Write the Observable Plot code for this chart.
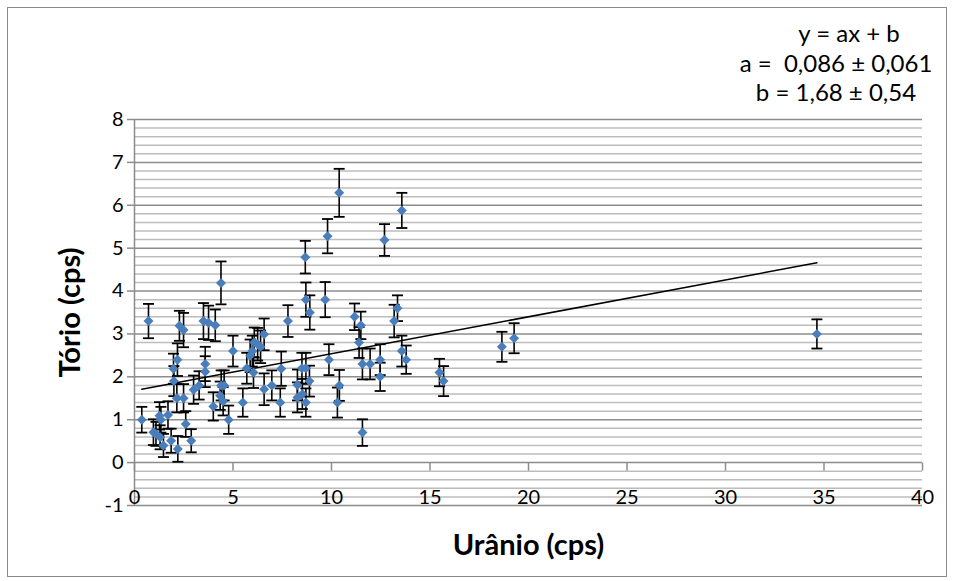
<!DOCTYPE html>
<html><head><meta charset="utf-8">
<script src="https://cdn.jsdelivr.net/npm/d3@7"></script>
<script src="https://cdn.jsdelivr.net/npm/@observablehq/plot@0.6"></script>
<style>
body{margin:0;background:#fff;}
#wrap{position:relative;width:954px;height:581px;font-family:Lato, sans-serif;overflow:hidden;}
#border{position:absolute;left:7px;top:7px;width:938px;height:568px;border:1px solid #8a8a8a;pointer-events:none;}
#eq{position:absolute;left:716px;top:18px;width:240px;text-align:center;font-size:24px;line-height:29.5px;color:#000;white-space:pre;}
#eq div:first-child{padding-left:26px;}
</style></head><body>
<div id="wrap"><div id="chart"></div><div id="border"></div><div id="eq"></div></div>
<script>
const uranio = [0.37,0.71,0.96,1.09,1.27,1.34,1.30,1.47,1.70,1.86,2.20,2.60,2.88,2.15,2.49,2.00,1.98,2.18,2.28,2.49,
  3.00,3.28,3.59,3.59,3.50,3.76,4.10,4.39,4.00,4.40,4.55,4.35,4.50,4.78,5.00,5.50,5.70,5.87,5.98,6.04,
  6.08,6.25,6.40,6.58,6.58,6.97,7.40,7.45,7.79,8.27,8.27,8.50,8.52,8.70,8.70,8.88,8.70,8.90,8.67,9.68,
  9.80,9.87,10.39,10.40,10.30,11.17,11.49,11.40,11.57,11.96,11.57,12.47,12.47,12.69,13.18,13.35,13.57,13.79,13.57,15.48,
  15.69,18.65,19.27,34.64];
const torio = [1.00,3.30,0.71,0.67,1.09,1.00,0.59,0.40,1.11,0.51,0.32,0.90,0.51,1.50,1.50,1.90,2.19,2.40,3.19,3.09,
  1.70,1.80,2.12,2.30,3.30,3.26,3.20,4.19,1.31,1.80,1.80,1.56,1.43,1.00,2.60,1.40,2.20,2.49,2.60,2.10,
  2.80,2.76,2.70,2.99,1.71,1.80,1.40,2.19,3.30,1.81,1.52,2.20,1.60,2.20,1.40,1.90,3.80,3.50,4.79,3.80,
  5.28,2.40,6.29,1.80,1.40,3.40,3.20,2.80,2.30,2.30,0.70,2.40,2.00,5.19,3.30,3.60,2.60,2.40,5.88,2.10,
  1.90,2.70,2.90,3.00];
const erro = [0.30,0.40,0.30,0.28,0.32,0.30,0.28,0.27,0.32,0.28,0.30,0.30,0.27,0.33,0.33,0.35,0.35,0.38,0.35,0.40,
  0.33,0.33,0.36,0.40,0.42,0.40,0.37,0.50,0.33,0.35,0.35,0.33,0.33,0.33,0.36,0.33,0.36,0.38,0.36,0.36,
  0.35,0.38,0.38,0.37,0.37,0.35,0.33,0.40,0.37,0.36,0.35,0.36,0.35,0.36,0.33,0.36,0.40,0.40,0.38,0.41,
  0.40,0.36,0.56,0.36,0.35,0.31,0.32,0.36,0.36,0.36,0.31,0.36,0.33,0.37,0.38,0.30,0.36,0.33,0.41,0.32,
  0.35,0.35,0.35,0.34];
const yTicks = [-1,0,1,2,3,4,5,6,7,8];
const xTicks = [0,5,10,15,20,25,30,35,40];
const eqLines = ["y = ax + b", "a =  0,086 ± 0,061", "b = 1,68 ± 0,54"];
const slope = 0.086, intercept = 1.68;
const xLabel = "Urânio (cps)", yLabel = "Tório (cps)";

const data = uranio.map((u, i) => ({u, t: torio[i], e: erro[i]}));
const minorY = d3.range(-1, 8.0001, 0.2).filter(v => Math.abs(v - Math.round(v)) > 1e-6);
const trend = d3.extent(uranio).map(x => ({x, y: slope * x + intercept}));

const capSymbol = {draw(ctx) { ctx.moveTo(-5.5, 0); ctx.lineTo(5.5, 0); }};
const tickSymbol = {draw(ctx) { ctx.moveTo(0, 0); ctx.lineTo(0, 8); }};

const chart = Plot.plot({
  width: 954, height: 581,
  marginLeft: 134, marginRight: 32, marginTop: 119, marginBottom: 76,
  x: {domain: [0, 40], axis: null},
  y: {domain: [-1, 8]},
  style: {fontFamily: "Lato, sans-serif", fontSize: "20px", background: "transparent", color: "#000"},
  marks: [
    Plot.ruleY(minorY, {stroke: "#bcbcbc", strokeWidth: 1.5}),
    Plot.ruleY(yTicks, {stroke: "#8c8c8c", strokeWidth: 1.5}),
    Plot.ruleX([0], {stroke: "#8c8c8c", strokeWidth: 1.5}),
    Plot.axisY(yTicks, {tickSize: 7, tickPadding: 4, label: null, stroke: "#8c8c8c", strokeWidth: 1.5, tickFormat: d => String(d), fontSize: 20}),
    Plot.dot(xTicks, {x: d => d, y: d => 0, symbol: tickSymbol, stroke: "#8c8c8c", strokeWidth: 1.5, fill: "none"}),
    Plot.text(xTicks, {x: d => d, y: d => 0, dy: 35, text: d => String(d), fontSize: 20}),
    Plot.line(trend, {x: "x", y: "y", stroke: "#000", strokeWidth: 1.5}),
    Plot.ruleX(data, {x: "u", y1: d => d.t - d.e, y2: d => d.t + d.e, stroke: "#000", strokeWidth: 1.6}),
    Plot.dot(data, {x: "u", y: d => d.t + d.e, symbol: capSymbol, stroke: "#000", strokeWidth: 1.8, fill: "none"}),
    Plot.dot(data, {x: "u", y: d => d.t - d.e, symbol: capSymbol, stroke: "#000", strokeWidth: 1.8, fill: "none"}),
    Plot.dot(data, {x: "u", y: "t", symbol: "diamond2", r: 4.5, fill: "#4a7ebb", stroke: "none"}),
    Plot.text([xLabel], {frameAnchor: "bottom", dy: 40, text: d => d, fontSize: 29, fontWeight: "bold", textAnchor: "middle", lineAnchor: "middle"}),
    Plot.text([yLabel], {frameAnchor: "left", dx: -64, rotate: -90, text: d => d, fontSize: 29, fontWeight: "bold", textAnchor: "middle", lineAnchor: "middle"})
  ]
});
document.getElementById("chart").appendChild(chart);
const eq = document.getElementById("eq");
eqLines.forEach(s => { const d = document.createElement("div"); d.textContent = s; eq.appendChild(d); });
</script>
</body></html>
